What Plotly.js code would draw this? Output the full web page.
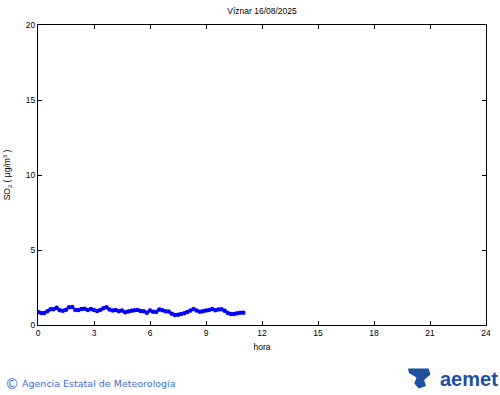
<!DOCTYPE html>
<html>
<head>
<meta charset="utf-8">
<script src="https://cdn.plot.ly/plotly-3.0.1.min.js"></script>
<style>
html,body{margin:0;padding:0;background:#fff;}
#chart{width:500px;height:395px;}
</style>
</head>
<body>
<div id="chart"></div>
<script>
// Hour of day (10-minute steps) and SO2 concentration (µg/m³)
var hours = [0,0.1667,0.3333,0.5,0.6667,0.8333,1,1.1667,1.3333,1.5,1.6667,1.8333,2,2.1667,2.3333,2.5,2.6667,2.8333,3,3.1667,3.3333,3.5,3.6667,3.8333,4,4.1667,4.3333,4.5,4.6667,4.8333,5,5.1667,5.3333,5.5,5.6667,5.8333,6,6.1667,6.3333,6.5,6.6667,6.8333,7,7.1667,7.3333,7.5,7.6667,7.8333,8,8.1667,8.3333,8.5,8.6667,8.8333,9,9.1667,9.3333,9.5,9.6667,9.8333,10,10.1667,10.3333,10.5,10.6667,10.8333,11];
var so2 = [0.87,0.80,0.80,0.92,1.05,1.05,1.15,0.98,0.95,1.02,1.18,1.20,1.00,1.00,1.07,1.08,1.00,1.07,1.00,0.93,1.00,1.12,1.18,1.04,0.96,1.00,0.92,0.96,0.85,0.90,0.95,0.98,1.00,0.93,0.91,0.82,0.96,0.89,0.87,1.04,0.98,0.92,0.90,0.75,0.67,0.68,0.73,0.78,0.87,0.96,1.07,0.96,0.89,0.91,0.96,1.00,1.07,0.98,1.04,1.05,0.95,0.80,0.73,0.73,0.78,0.82,0.82];
var xTicks = [0,3,6,9,12,15,18,21,24];
var yTicks = [0,5,10,15,20];
var chartTitle = 'Víznar 16/08/2025';
var xLabel = 'hora';
var yLabel = 'SO<sub>2</sub> ( μg/m<sup>3</sup> )';
var footerMark = '©';
var footerText = 'Agencia Estatal de Meteorología';

var font = {family:'Liberation Sans, Arial, sans-serif', size:8.5, color:'#000'};

var trace = {
  x: hours, y: so2, type:'scatter', mode:'lines+markers',
  line:{color:'#0000ff', width:2},
  marker:{color:'#0000ff', size:4.5},
  hoverinfo:'skip', showlegend:false
};

var axisCommon = {
  showline:true, linecolor:'#000', linewidth:1, mirror:'ticks',
  ticks:'inside', ticklen:4, tickcolor:'#000', tickwidth:1,
  showgrid:false, zeroline:false, tickfont:font, fixedrange:true
};

var layout = {
  width:500, height:395,
  margin:{l:38, r:14, t:25, b:70, pad:0},
  paper_bgcolor:'#fff', plot_bgcolor:'#fff',
  font: font,
  title:{text:chartTitle, font:{family:font.family, size:8.5, color:'#000'}, x:0.524, xanchor:'center', y:0.973, yanchor:'middle'},
  xaxis: Object.assign({}, axisCommon, {range:[0,24], tickvals:xTicks, ticktext:xTicks.map(String),
    title:{text:xLabel, font:{family:font.family,size:8.5,color:'#000'}, standoff:6}}),
  yaxis: Object.assign({}, axisCommon, {range:[0,20], tickvals:yTicks, ticktext:yTicks.map(String),
    title:{text:yLabel, font:{family:font.family,size:8.5,color:'#000'}, standoff:13}}),
  annotations:[
    {xref:'paper', yref:'paper', x:-0.079, y:-0.195, xanchor:'left', yanchor:'middle', showarrow:false,
     text:footerMark, font:{family:'DejaVu Sans, sans-serif', size:14, color:'#3a6fd8'}},
    {xref:'paper', yref:'paper', x:-0.04, y:-0.195, xanchor:'left', yanchor:'middle', showarrow:false,
     text:footerText, font:{family:'DejaVu Sans, sans-serif', size:9.5, color:'#3a6fd8'}},
    {xref:'paper', yref:'paper', x:1.031, y:-0.18, xanchor:'right', yanchor:'middle', showarrow:false,
     text:'<b>aemet</b>', font:{family:'Liberation Sans, Arial, sans-serif', size:20, color:'#1f4f9f'}}
  ],
  shapes:[
    {type:'path', xref:'paper', yref:'paper',
     path:'M 0.826 -0.145 L 0.872 -0.145 L 0.876 -0.165 L 0.862 -0.183 L 0.866 -0.203 L 0.85 -0.212 L 0.84 -0.195 L 0.845 -0.175 L 0.828 -0.16 Z',
     fillcolor:'#1f4f9f', line:{width:0}}
  ]
};

Plotly.newPlot('chart', [trace], layout, {staticPlot:true, displayModeBar:false});
</script>
</body>
</html>
